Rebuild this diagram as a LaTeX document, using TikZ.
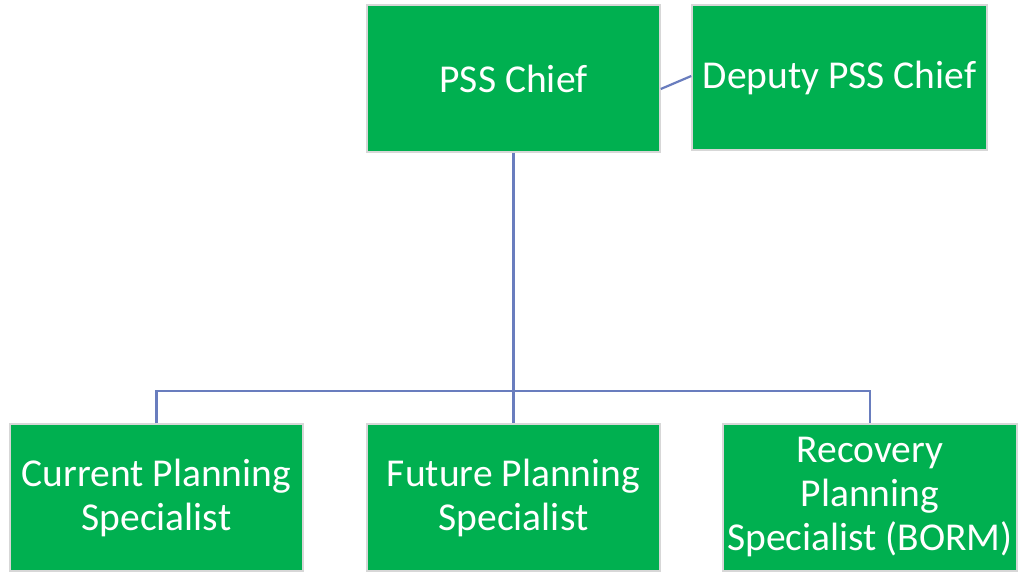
\documentclass[tikz,border=0pt]{standalone}
\usepackage{fontspec}
\setmainfont{Carlito}
\definecolor{boxgreen}{RGB}{0,176,80}
\definecolor{linkblue}{RGB}{105,125,190}
\definecolor{edgegray}{RGB}{215,215,215}
\begin{document}
\begin{tikzpicture}[x=1pt,y=-1pt,
  orgbox/.style={rectangle, fill=boxgreen, draw=edgegray, line width=1.5pt,
    text=white, align=center, inner sep=0pt,
    font=\fontsize{39.5}{44}\selectfont},
  link/.style={draw=linkblue, line width=2.2pt}]
\useasboundingbox[fill=white] (0,0) rectangle (1020,571);
\node[orgbox, minimum width=293pt, minimum height=147pt] (pss) at (513.5,78.5) {PSS Chief};
\node[orgbox, minimum width=295pt, minimum height=145pt] (deputy) at (839.5,77.5) {Deputy PSS Chief};
\node[orgbox, minimum width=293pt, minimum height=147pt] (current) at (156.5,497.5) {Current Planning\\Specialist};
\node[orgbox, minimum width=293pt, minimum height=147pt] (future) at (513.5,497.5) {Future Planning\\Specialist};
\node[orgbox, minimum width=294pt, minimum height=147pt] (recovery) at (870,497.5) {Recovery\\Planning\\Specialist (BORM)};
\draw[link] (pss.south) -- (future.north);
\draw[link] (current.north) -- ++(0,-32) -| (recovery.north);
\draw[link] ([yshift=-10.5pt]pss.east) -- ([yshift=1.5pt]deputy.west);
\end{tikzpicture}
\end{document}
